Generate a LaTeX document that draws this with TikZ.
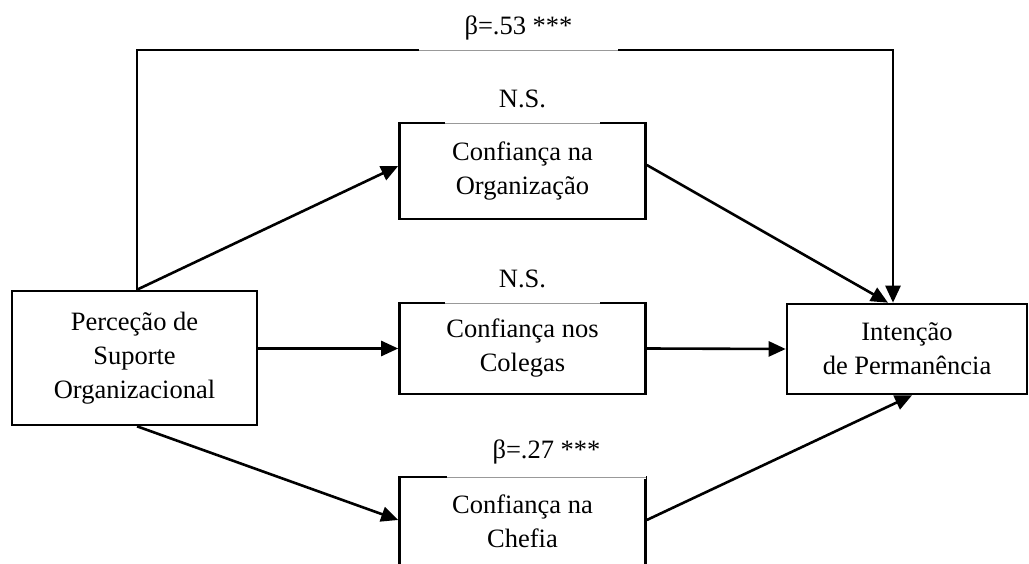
\documentclass[tikz,border=0pt]{standalone}
\usepackage{fontspec}
\setmainfont{Liberation Serif}
\usetikzlibrary{arrows.meta}
\begin{document}
\begin{tikzpicture}[x=1pt,y=1pt,
  font=\fontsize{26.5}{34}\selectfont,
  box/.style={draw, line width=2.6pt, align=center, inner sep=0pt},
  link/.style={line width=2.6pt, -{Triangle[length=17pt,width=15pt]}},
  gaplbl/.style={fill=white, inner xsep=0pt, inner ysep=0pt, text height=20pt, text depth=#1, anchor=base},
  gapline/.style={draw=black!40, line width=0.9pt}]
\useasboundingbox (0,0) rectangle (1029,-564);
\clip (0,0) rectangle (1029,-564);

% constructs
\node[box, minimum width=245pt, minimum height=134pt] (pso) at (134.5,-358) {Perceção de\\Suporte\\Organizacional};
\node[box, minimum width=246pt, minimum height=96pt] (org) at (522.5,-171) {Confiança na\\Organização};
\node[box, minimum width=246pt, minimum height=91pt] (col) at (522.5,-348.5) {Confiança nos\\Colegas};
\node[box, minimum width=246pt, minimum height=88pt] (chf) at (522.5,-521) {Confiança na\\Chefia};
\node[box, minimum width=240pt, minimum height=90pt] (int) at (907,-349) {Intenção\\de Permanência};

% direct path over the top
\coordinate (tr) at (893,-50);
\draw[link] ([xshift=2.5pt]pso.north) |- (tr) -- (tr |- int.north);

% paths through the mediators
\draw[link] ([xshift=2.5pt]pso.north) -- ([yshift=5pt]org.west);
\draw[link] (pso.east |- col) -- (col.west);
\draw[link] ([xshift=2.5pt]pso.south) -- ([yshift=1pt]chf.west);
\draw[link] ([yshift=6pt]org.east) -- ([xshift=-19pt]int.north);
\draw[link] (col.east) -- (int.west);
\draw[link] ([yshift=1pt]chf.east) -- ([xshift=5pt]int.south);

% coefficient labels
\node[gaplbl=16.5pt, minimum width=199pt] (b1) at (518.5,-35) {β=.53 ***};
\draw[gapline] ([yshift=1.5pt]b1.south west) -- ([yshift=1.5pt]b1.south east);
\node[gaplbl=16.5pt, minimum width=155pt] (n1) at (522.5,-108) {N.S.};
\draw[gapline] ([yshift=1.5pt]n1.south west) -- ([yshift=1.5pt]n1.south east);
\node[gaplbl=16.5pt, minimum width=155pt] (n2) at (522.5,-288) {N.S.};
\draw[gapline] ([yshift=1.5pt]n2.south west) -- ([yshift=1.5pt]n2.south east);
\node[gaplbl=20.5pt, minimum width=199pt] (b2) at (546.5,-458) {β=.27 ***};
\draw[gapline] ([yshift=1.5pt]b2.south west) -- ([yshift=1.5pt]b2.south east);
\end{tikzpicture}
\end{document}
